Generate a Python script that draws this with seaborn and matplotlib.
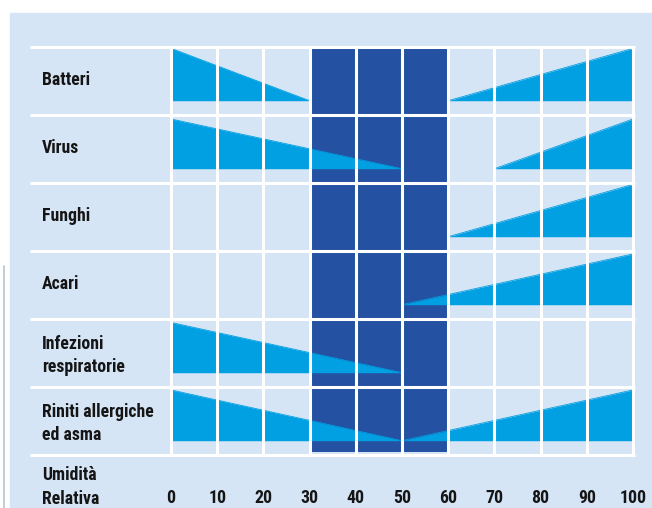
import matplotlib.pyplot as plt
import seaborn as sns
import pandas as pd
import numpy as np

# DATA
categories = ["Batteri", "Virus", "Funghi", "Acari",
              "Infezioni\nrespiratorie", "Riniti allergiche\ned asma"]
# each segment: (humidity from, humidity to, risk from, risk to)
batteri = [(0, 30, 1.0, 0.0), (60, 100, 0.0, 1.0)]
virus = [(0, 50, 0.95, 0.0), (70, 100, 0.0, 0.95)]
funghi = [(60, 100, 0.0, 1.0)]
acari = [(50, 100, 0.0, 0.97)]
infezioni = [(0, 50, 0.96, 0.0)]
riniti = [(0, 50, 0.97, 0.0), (50, 100, 0.0, 0.97)]
segments = [batteri, virus, funghi, acari, infezioni, riniti]
humidity_ticks = [0, 10, 20, 30, 40, 50, 60, 70, 80, 90, 100]
optimal_zone = (30, 60)
axis_label = "Umidità\nRelativa"

# STYLE
sns.set_theme(style="white")
plt.rcParams["font.family"] = ["Roboto Condensed", "DejaVu Sans"]
plt.rcParams["font.stretch"] = "condensed"
BG = "#d5e5f5"
LIGHT = "#00a0e3"
DARK = "#2451a1"
TXT = "#151515"
FS = 12.8
FW = "bold"
LS = 1.38

W, H = 652, 508
fig = plt.figure(figsize=(W / 100, H / 100), dpi=100)
fig.patch.set_facecolor("white")
fig.patches.append(plt.Rectangle((10 / W, 0), 1, (H - 13) / H,
                                 transform=fig.transFigure, color=BG, zorder=-2))
fig.add_artist(plt.Line2D([4 / W, 4 / W], [0, (H - 266) / H],
                          transform=fig.transFigure, color="#b8c4d0", lw=1.2, zorder=-1))

# axes covering whole figure, pixel mapping: x 0->171px, 100->633px; row unit = 68px from y=47
px_per_x = 4.62
row_px = 68
ax = fig.add_axes([0, 0, 1, 1])
ax.set_xlim(-171 / px_per_x, (W - 171) / px_per_x)
ax.set_ylim((H - 47) / row_px, -47 / row_px)
ax.axis("off")
ax.patch.set_alpha(0)

base = 0.79
hmax = 0.77

# optimal zone
ax.fill_between(list(optimal_zone), 0, 5.95, color=DARK, lw=0, zorder=1)

# risk wedges
for i, segs in enumerate(segments):
    for x0, x1, r0, r1 in segs:
        df = pd.DataFrame({"x": [x0, x1], "y": [i + base - hmax * r0, i + base - hmax * r1]})
        ax.fill_between(df["x"], i + base, df["y"], color=LIGHT, lw=0, zorder=2)
        sns.lineplot(data=df, x="x", y="y", ax=ax, color=LIGHT, lw=0.6, zorder=2)
    off = 0.54 if "\n" in categories[i] else 0.48
    ax.text(-28, i + off, categories[i], ha="left", va="center", fontsize=FS,
            fontweight=FW, color=TXT, linespacing=LS)

# white grid
for i in range(len(categories) + 1):
    ax.plot([-30.5, 100.4], [i, i], color="white", lw=2.2, zorder=3, solid_capstyle="butt")
for t in humidity_ticks:
    ax.plot([t, t], [0, len(categories)], color="white", lw=2.2, zorder=3, solid_capstyle="butt")

# axis labels
ax.text(-28, 6.47, axis_label, ha="left", va="center", fontsize=FS,
        fontweight=FW, color=TXT, linespacing=LS)
for t in humidity_ticks:
    ax.text(t, 6.63, str(t), ha="center", va="center", fontsize=FS,
            fontweight=FW, color=TXT)

fig.savefig("out.png", dpi=100)
